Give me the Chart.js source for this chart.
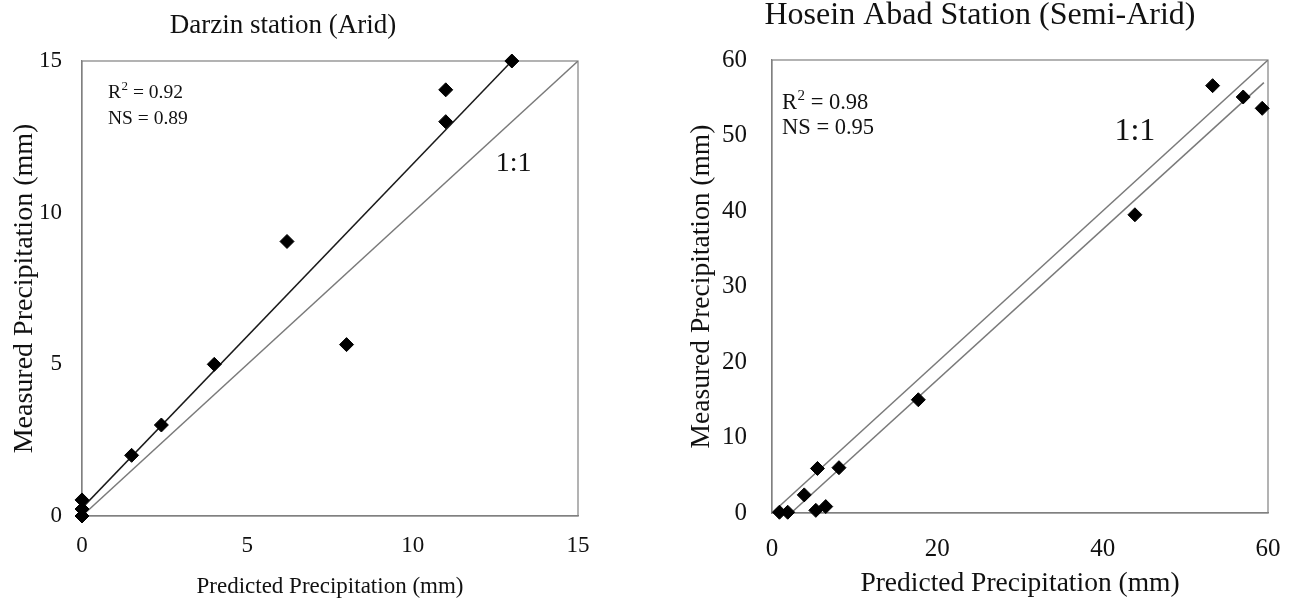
<!DOCTYPE html>
<html>
<head>
<meta charset="utf-8">
<script src="https://cdn.jsdelivr.net/npm/chart.js@4.4.1/dist/chart.umd.min.js"></script>
<style>
  body { margin: 0; background: #fff; width: 1293px; height: 606px; overflow: hidden; position: relative; }
  canvas { position: absolute; top: 0; }
  #left { left: 0; }
  #right { left: 680px; }
</style>
</head>
<body>
<canvas id="left" width="640" height="606"></canvas>
<canvas id="right" width="625" height="606"></canvas>
<script>
// Darzin station (Arid)
var darzinPredicted = [0, 0, 0, 1.5, 2.4, 4, 6.2, 8, 11, 11, 13];
var darzinMeasured = [0, 0.23, 0.53, 2, 3, 5, 9.05, 5.65, 13, 14.05, 15];
var darzinTrendX = [0, 13];
var darzinTrendY = [0.26, 15];
var darzinOneX = [0, 15];
var darzinOneY = [0, 15];

// Hosein Abad Station (Semi-Arid)
var hoseinPredicted = [0.9, 1.9, 3.9, 5.5, 5.3, 6.5, 8.1, 17.7, 43.9, 53.3, 57, 59.3];
var hoseinMeasured = [0.1, 0.1, 2.4, 5.9, 0.35, 0.85, 6, 15, 39.5, 56.6, 55.1, 53.6];
var hoseinTrendX = [2.3, 59.5];
var hoseinTrendY = [0, 57];
var hoseinOneX = [0, 60];
var hoseinOneY = [0, 60];

var FAM = "'Liberation Serif', 'Times New Roman', serif";

function pts(xs, ys) {
  return xs.map(function(x, i) { return { x: x, y: ys[i] }; });
}

// draws the frame, title and the text notes
var overlay = {
  id: 'overlay',
  beforeDatasetsDraw: function(chart, args, o) {
    var a = chart.chartArea, ctx = chart.ctx;
    ctx.save();
    ctx.strokeStyle = '#808080';
    ctx.lineWidth = 1.2;
    ctx.strokeRect(a.left, a.top, a.right - a.left, a.bottom - a.top);
    ctx.restore();
  },
  afterDraw: function(chart, args, o) {
    var a = chart.chartArea, ctx = chart.ctx;
    ctx.save();
    ctx.fillStyle = '#111';
    ctx.textAlign = 'center';
    ctx.textBaseline = 'middle';
    ctx.font = o.titleSize + 'px ' + FAM;
    ctx.fillText(o.title, o.titleX, o.titleY);

    // R2 and NS
    var x = a.left + o.noteX, s = o.noteSize;
    ctx.textAlign = 'left';
    ctx.textBaseline = 'alphabetic';
    ctx.font = s + 'px ' + FAM;
    ctx.fillText('R', x, a.top + o.r2Y);
    var w = ctx.measureText('R').width;
    ctx.font = Math.round(s * 0.65) + 'px ' + FAM;
    ctx.fillText('2', x + w + 0.5, a.top + o.r2Y - s * 0.4);
    var w2 = ctx.measureText('2').width;
    ctx.font = s + 'px ' + FAM;
    ctx.fillText(' = ' + o.r2, x + w + w2 + 0.5, a.top + o.r2Y);
    ctx.fillText('NS = ' + o.ns, x, a.top + o.nsY);

    // 1:1 label
    ctx.textAlign = 'center';
    ctx.textBaseline = 'middle';
    ctx.font = o.oneSize + 'px ' + FAM;
    ctx.fillText('1:1', chart.scales.x.getPixelForValue(o.oneAt[0]), chart.scales.y.getPixelForValue(o.oneAt[1]));
    ctx.restore();
  }
};

function makeChart(id, c) {
  return new Chart(document.getElementById(id), {
    type: 'scatter',
    data: {
      datasets: [
        { data: pts(c.px, c.py), pointStyle: 'rectRot', pointRadius: 7, backgroundColor: '#000',
          borderColor: '#000', borderWidth: 1, clip: false },
        { data: pts(c.tx, c.ty), showLine: true, pointRadius: 0, borderColor: c.trendColor, borderWidth: 1.5 },
        { data: pts(c.ox, c.oy), showLine: true, pointRadius: 0, borderColor: '#7a7a7a', borderWidth: 1.4 }
      ]
    },
    options: {
      responsive: false,
      animation: false,
      layout: { padding: { top: c.top, right: c.right, left: 0, bottom: 0 } },
      plugins: {
        legend: { display: false },
        tooltip: { enabled: false },
        overlay: c.notes
      },
      scales: {
        x: {
          min: 0, max: c.max,
          grid: { display: false, drawTicks: false },
          border: { display: true, color: '#808080', width: 1.2 },
          ticks: { stepSize: c.step[0], color: '#111', padding: c.xPad, font: { family: FAM, size: c.tickSize } },
          title: { display: true, text: 'Predicted Precipitation (mm)', color: '#111',
                   font: { family: FAM, size: c.xTitleSize }, padding: { top: 0, bottom: c.xTitlePad } },
          afterFit: function(s) { s.height = c.xHeight; }
        },
        y: {
          min: 0, max: c.max,
          grid: { display: false, drawTicks: false },
          border: { display: true, color: '#808080', width: 1.2 },
          ticks: { stepSize: c.step[1], color: '#111', padding: c.yPad, font: { family: FAM, size: c.tickSize } },
          title: { display: true, text: 'Measured Precipitation (mm)', color: '#111',
                   font: { family: FAM, size: c.yTitleSize }, padding: { top: c.yTitlePad, bottom: 0 } },
          afterFit: function(s) { s.width = c.yWidth; }
        }
      }
    },
    plugins: [overlay]
  });
}

makeChart('left', {
  px: darzinPredicted, py: darzinMeasured, tx: darzinTrendX, ty: darzinTrendY,
  ox: darzinOneX, oy: darzinOneY, trendColor: '#1a1a1a',
  max: 15, step: [5, 5], top: 61, right: 62, xHeight: 90, yWidth: 82,
  tickSize: 23, xPad: 16, yPad: 20, xTitleSize: 23, xTitlePad: 5, yTitleSize: 28, yTitlePad: 8,
  notes: { title: 'Darzin station (Arid)', titleSize: 27, titleX: 283, titleY: 26,
           noteX: 26, noteSize: 19.5, r2: '0.92', ns: '0.89', r2Y: 37, nsY: 63,
           oneSize: 28, oneAt: [13.05, 11.6] }
});

makeChart('right', {
  px: hoseinPredicted, py: hoseinMeasured, tx: hoseinTrendX, ty: hoseinTrendY,
  ox: hoseinOneX, oy: hoseinOneY, trendColor: '#7a7a7a',
  max: 60, step: [20, 10], top: 60, right: 37, xHeight: 93, yWidth: 92,
  tickSize: 25, xPad: 21, yPad: 25, xTitleSize: 27.5, xTitlePad: 6, yTitleSize: 27.5, yTitlePad: 5,
  notes: { title: 'Hosein Abad Station (Semi-Arid)', titleSize: 32, titleX: 300, titleY: 16,
           noteX: 10, noteSize: 22.5, r2: '0.98', ns: '0.95', r2Y: 49, nsY: 74,
           oneSize: 32, oneAt: [43.9, 50.5] }
});
</script>
</body>
</html>
